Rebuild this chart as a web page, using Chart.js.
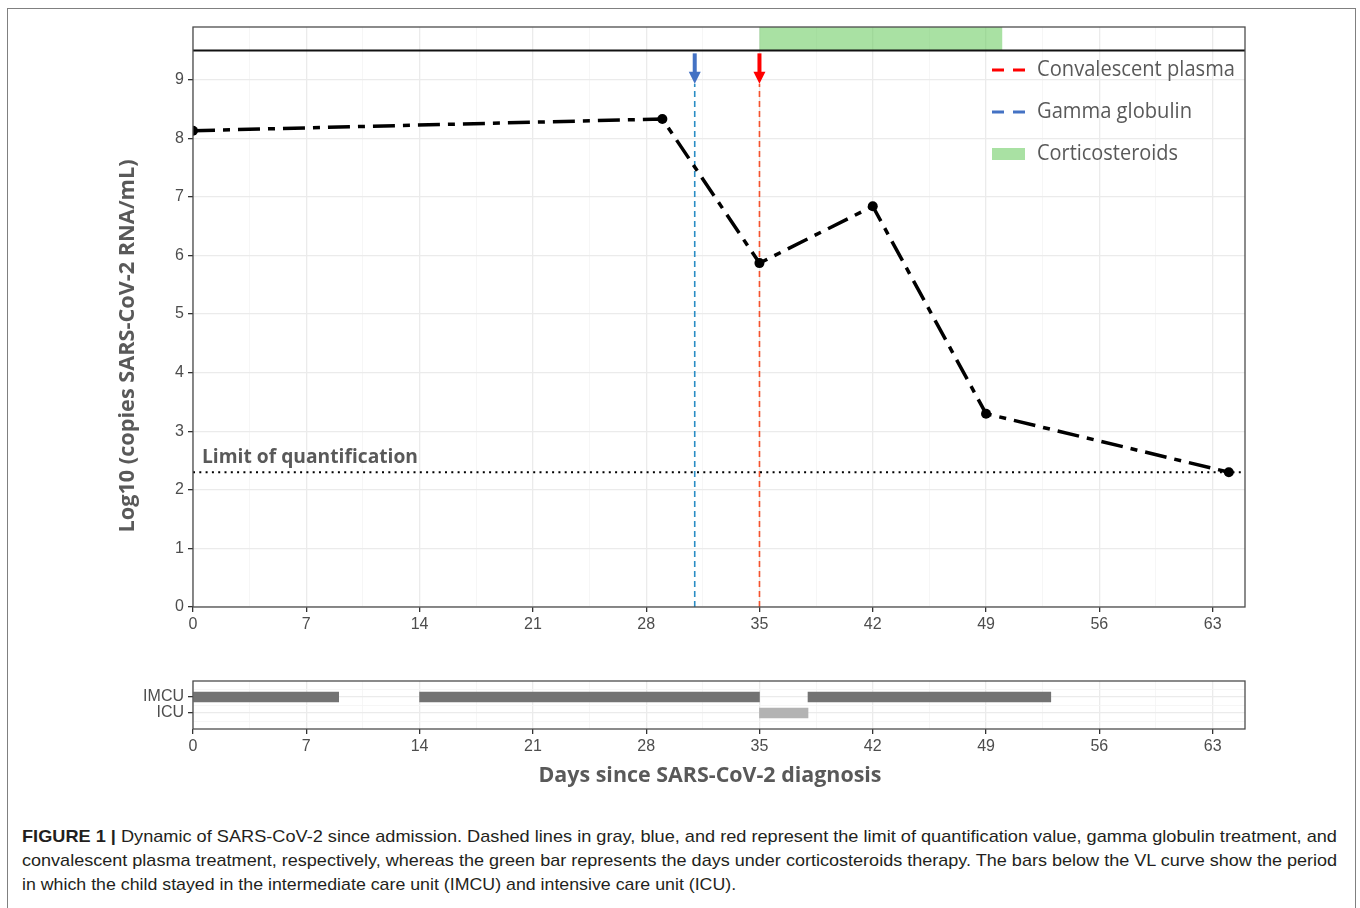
<!DOCTYPE html>
<html>
<head>
<meta charset="utf-8">
<script src="https://cdn.jsdelivr.net/npm/chart.js@4.4.1/dist/chart.umd.min.js"></script>
<style>
  html, body { margin: 0; padding: 0; background: #fff; width: 1360px; height: 908px; overflow: hidden; }
  #frame { position: absolute; left: 7px; top: 8px; width: 1347px; height: 940px; border: 1.5px solid #808080; }
  canvas { position: absolute; left: 0; }
  #main { top: 0; }
  #stay { top: 650px; }
  .cl { position: absolute; left: 22px; white-space: nowrap; transform-origin: 0 0;
        font: 17px "Liberation Sans", Arial, sans-serif; color: #231f20; }
</style>
</head>
<body>
<div id="frame"></div>
<canvas id="main" width="1360" height="650"></canvas>
<canvas id="stay" width="1360" height="150"></canvas>
<div class="cl" id="cap1" style="top:827px"><b>FIGURE 1 |</b> Dynamic of SARS-CoV-2 since admission. Dashed lines in gray, blue, and red represent the limit of quantification value, gamma globulin treatment, and</div>
<div class="cl" id="cap2" style="top:851px">convalescent plasma treatment, respectively, whereas the green bar represents the days under corticosteroids therapy. The bars below the VL curve show the period</div>
<div class="cl" id="cap3" style="top:875px">in which the child stayed in the intermediate care unit (IMCU) and intensive care unit (ICU).</div>

<script>
// viral load samples
const days = [0, 29, 35, 42, 49, 64];
const logVL = [8.13, 8.33, 5.87, 6.84, 3.30, 2.30];

// treatments
const loq = 2.3;
const gammaDay = 31;
const plasmaDay = 35;
const steroidDays = [35, 50];

// hospital stays
const unitLabels = ['ICU', 'IMCU'];
const stayUnit = ['IMCU', 'IMCU', 'ICU', 'IMCU'];
const stayStart = [0, 14, 35, 38];
const stayEnd = [9, 35, 38, 53];

// axes
const xTickLabels = [0, 7, 14, 21, 28, 35, 42, 49, 56, 63];
const yTickLabels = [0, 1, 2, 3, 4, 5, 6, 7, 8, 9];
const legendLabels = ['Convalescent plasma', 'Gamma globulin', 'Corticosteroids'];

const TICK_FONT = { family: '"Liberation Sans", Arial, sans-serif', size: 16 };
const TITLE_FONT = '"Open Sans", "DejaVu Sans", sans-serif';
const GREEN = 'rgba(98, 200, 88, 0.55)';

// draw text squeezed/stretched to a given width (the original uses Calibri)
function fitText(ctx, text, x, y, w, font, color, align, rot) {
  ctx.save();
  ctx.font = font;
  ctx.fillStyle = color;
  ctx.textBaseline = 'middle';
  ctx.textAlign = align || 'left';
  const k = w / ctx.measureText(text).width;
  ctx.translate(x, y);
  if (rot) ctx.rotate(rot);
  ctx.scale(k, 1);
  ctx.fillText(text, 0, 0);
  ctx.restore();
}

const isMajorX = c => !!c.tick && xTickLabels.includes(c.tick.value);

function xScale() {
  return {
    type: 'linear', min: 0, max: 65, offset: false,
    ticks: {
      stepSize: 3.5, includeBounds: false, autoSkip: false, maxRotation: 0,
      color: '#4d4d4d', font: TICK_FONT, padding: 3,
      callback: v => xTickLabels.includes(v) ? String(v) : ''
    },
    grid: {
      offset: false,
      color: c => isMajorX(c) ? '#ebebeb' : '#f4f4f4',
      lineWidth: c => isMajorX(c) ? 1.3 : 0.8,
      tickColor: c => isMajorX(c) ? '#333' : 'rgba(0,0,0,0)',
      tickLength: 5, tickWidth: 1.3
    },
    border: { display: false },
    afterFit: s => { s.height = 30; }
  };
}

function drawFrame(chart) {
  const { ctx, chartArea: a } = chart;
  ctx.save();
  ctx.strokeStyle = '#4d4d4d';
  ctx.lineWidth = 1.3;
  ctx.strokeRect(a.left, a.top, a.right - a.left, a.bottom - a.top);
  ctx.restore();
}

function drawArrow(chart, day, color) {
  const { ctx, scales: { x, y } } = chart;
  const px = x.getPixelForValue(day);
  const top = y.getPixelForValue(9.45);
  const tip = y.getPixelForValue(8.93);
  ctx.save();
  ctx.fillStyle = color;
  ctx.fillRect(px - 2, top, 4, tip - top - 10);
  ctx.beginPath();
  ctx.moveTo(px - 6, tip - 12);
  ctx.lineTo(px + 6, tip - 12);
  ctx.lineTo(px, tip);
  ctx.closePath();
  ctx.fill();
  ctx.restore();
}

const mainDecor = {
  id: 'mainDecor',
  beforeDatasetsDraw(chart) {
    const { ctx, chartArea: a, scales: { x, y } } = chart;
    ctx.save();
    // corticosteroid period strip
    const x0 = x.getPixelForValue(steroidDays[0]);
    const x1 = x.getPixelForValue(steroidDays[1]);
    const ySep = y.getPixelForValue(9.5);
    ctx.fillStyle = GREEN;
    ctx.fillRect(x0, a.top, x1 - x0, ySep - a.top);
    ctx.strokeStyle = '#111';
    ctx.lineWidth = 2;
    ctx.beginPath();
    ctx.moveTo(a.left, ySep);
    ctx.lineTo(a.right, ySep);
    ctx.stroke();
    ctx.restore();
  },
  afterDatasetsDraw(chart) {
    const { ctx } = chart;
    drawFrame(chart);
    drawArrow(chart, gammaDay, '#4472c4');
    drawArrow(chart, plasmaDay, '#ff0000');

    // legend
    const rows = [70, 112, 154];
    const widths = [198, 155, 141];
    ctx.save();
    ctx.lineWidth = 3;
    ctx.setLineDash([12, 9]);
    [['#ff0000', rows[0]], ['#4472c4', rows[1]]].forEach(([c, ry]) => {
      ctx.strokeStyle = c;
      ctx.beginPath();
      ctx.moveTo(992, ry);
      ctx.lineTo(1025, ry);
      ctx.stroke();
    });
    ctx.setLineDash([]);
    ctx.fillStyle = GREEN;
    ctx.fillRect(992, rows[2] - 6, 33, 12);
    ctx.restore();
    legendLabels.forEach((t, i) =>
      fitText(ctx, t, 1037, rows[i], widths[i], '21px ' + TITLE_FONT, '#595959'));

    fitText(ctx, 'Limit of quantification', 202, 457, 216, 'bold 20px ' + TITLE_FONT, '#595959');
    fitText(ctx, 'Log10 (copies SARS-CoV-2 RNA/mL)', 128, 346, 373,
      'bold 21px ' + TITLE_FONT, '#595959', 'center', -Math.PI / 2);
  }
};

new Chart(document.getElementById('main'), {
  type: 'line',
  data: {
    datasets: [
      {
        data: days.map((d, i) => ({ x: d, y: logVL[i] })),
        borderColor: '#000', borderWidth: 3.5, borderDash: [22, 8, 7, 8],
        pointRadius: 5, pointBackgroundColor: '#000', pointBorderWidth: 0,
        tension: 0, clip: 0
      },
      {
        data: [{ x: 0, y: loq }, { x: 65, y: loq }],
        borderColor: '#000', borderWidth: 2, borderDash: [2, 4.3], pointRadius: 0
      },
      {
        data: [{ x: gammaDay, y: 0 }, { x: gammaDay, y: 8.93 }],
        borderColor: '#2a8dc4', borderWidth: 1.6, borderDash: [6, 4], pointRadius: 0
      },
      {
        data: [{ x: plasmaDay, y: 0 }, { x: plasmaDay, y: 8.93 }],
        borderColor: '#f5522d', borderWidth: 1.6, borderDash: [6, 4], pointRadius: 0
      }
    ]
  },
  options: {
    responsive: false,
    animation: false,
    layout: { padding: { left: 110, right: 115, top: 27, bottom: 13 } },
    plugins: { legend: { display: false }, tooltip: { enabled: false } },
    scales: {
      x: xScale(),
      y: {
        type: 'linear', min: 0, max: 9.9,
        ticks: {
          stepSize: 1, includeBounds: false, autoSkip: false, color: '#4d4d4d', font: TICK_FONT, padding: 4,
          callback: v => yTickLabels.includes(v) ? String(v) : ''
        },
        grid: { color: '#ebebeb', lineWidth: 1.3, tickColor: '#333', tickLength: 5, tickWidth: 1.3 },
        border: { display: false },
        afterFit: s => { s.width = 83; }
      }
    }
  },
  plugins: [mainDecor]
});

const stayDecor = {
  id: 'stayDecor',
  afterDatasetsDraw(chart) {
    drawFrame(chart);
    fitText(chart.ctx, 'Days since SARS-CoV-2 diagnosis', 710, 126, 343,
      'bold 21px ' + TITLE_FONT, '#595959', 'center');
  }
};

const unitVal = c => c.tick ? c.tick.value : -1;
const isUnit = c => unitVal(c) === 1 || unitVal(c) === 2;

new Chart(document.getElementById('stay'), {
  type: 'bar',
  data: {
    datasets: [{
      data: stayUnit.map((u, i) => ({ x: [stayStart[i], stayEnd[i]], y: unitLabels.indexOf(u) + 1 })),
      backgroundColor: stayUnit.map(u => u === 'ICU' ? '#b3b3b3' : '#737373'),
      borderWidth: 0, barThickness: 10
    }]
  },
  options: {
    responsive: false,
    animation: false,
    indexAxis: 'y',
    layout: { padding: { left: 110, right: 115, top: 31, bottom: 41 } },
    plugins: { legend: { display: false }, tooltip: { enabled: false } },
    scales: {
      x: xScale(),
      y: {
        type: 'linear', min: 0, max: 3, offset: false,
        ticks: {
          stepSize: 0.5, includeBounds: false, autoSkip: false, color: '#4d4d4d', font: TICK_FONT, padding: 4,
          callback: v => Number.isInteger(v) && v >= 1 && v <= unitLabels.length ? unitLabels[v - 1] : ''
        },
        grid: {
          offset: false,
          color: c => isUnit(c) ? '#ebebeb'
            : (unitVal(c) > 0 && unitVal(c) < 3 ? '#f4f4f4' : 'rgba(0,0,0,0)'),
          lineWidth: c => isUnit(c) ? 1.3 : 0.8,
          tickColor: c => isUnit(c) ? '#333' : 'rgba(0,0,0,0)',
          tickLength: 5, tickWidth: 1.3
        },
        border: { display: false },
        afterFit: s => { s.width = 83; }
      }
    }
  },
  plugins: [stayDecor]
});

// caption lines are set in a condensed face in the original; fit them to its widths
[['cap1', 1315], ['cap2', 1315], ['cap3', 714]].forEach(([id, w]) => {
  const el = document.getElementById(id);
  el.style.transform = 'scaleX(' + (w / el.offsetWidth) + ')';
});
</script>
</body>
</html>
